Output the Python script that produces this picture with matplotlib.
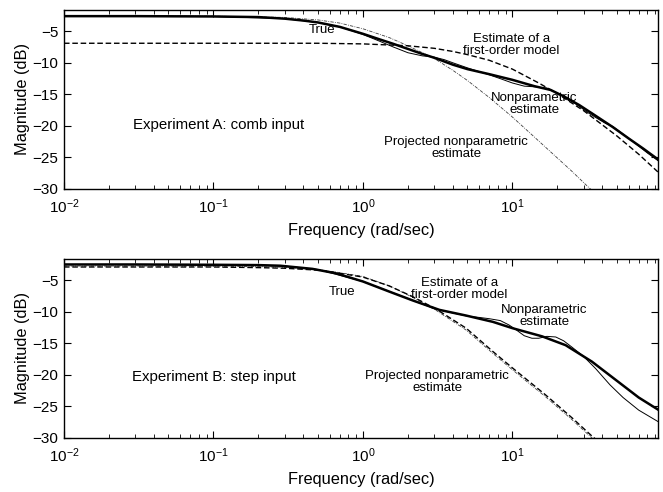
import numpy as np
import matplotlib
matplotlib.use('Agg')
import matplotlib.pyplot as plt

plt.rcParams.update({
    'font.family': ['Liberation Sans', 'DejaVu Sans'],
    'font.size': 11,
    'xtick.labelsize': 11,
    'ytick.labelsize': 11,
    'axes.labelsize': 11.8,
    'mathtext.default': 'regular',
})

# ---- Experiment A: comb input ----
freq_true_a = [0.01, 0.03, 0.1, 0.2, 0.3, 0.4, 0.5, 0.7, 1.0, 1.3, 1.6, 2.0, 2.5, 3.0,
               4.0, 5.0, 7.0, 10, 14, 18, 22, 28, 35, 47, 60, 75, 94]
true_a = [-2.6, -2.6, -2.65, -2.75, -3.0, -3.3, -3.6, -4.3, -5.4, -6.3, -7.0, -7.8, -8.6, -9.2,
          -10.3, -11.0, -11.8, -12.7, -13.7, -14.3, -15.3, -16.7, -18.2, -20.2, -22.0, -23.6, -25.3]

freq_np_a = [0.01, 0.1, 0.3, 0.5, 0.7, 1.0, 1.3, 1.6, 2.0, 2.5, 3.0, 3.5, 4.0, 5.0, 6.0, 7.0,
             8.5, 10, 12, 14, 17, 20, 22, 25, 28, 32, 38, 42, 47, 55, 65, 80, 94]
np_a = [-2.6, -2.65, -3.0, -3.6, -4.3, -5.5, -6.6, -7.5, -8.4, -8.9, -9.1, -9.5, -10.0, -10.8,
        -11.4, -11.9, -12.6, -13.2, -13.7, -13.8, -14.0, -14.8, -15.3, -16.1, -16.9, -17.9,
        -19.0, -19.6, -20.1, -21.3, -22.6, -24.3, -25.5]

freq_fo_a = [0.01, 0.1, 0.5, 1.0, 2.0, 3.0, 4.0, 5.0, 7.0, 10, 15, 20, 30, 50, 70, 94]
fo_a = [-6.9, -6.9, -6.9, -7.0, -7.3, -7.7, -8.2, -8.7, -9.6, -11.0, -13.2, -14.9, -17.6,
        -21.6, -24.5, -27.3]

freq_proj_a = [0.01, 0.1, 0.3, 0.5, 0.7, 1.0, 1.5, 2.0, 3.0, 4.0, 5.0, 7.0, 10, 15, 20, 25,
               32.5, 40]
proj_a = [-2.6, -2.6, -2.8, -3.2, -3.7, -4.6, -6.0, -7.3, -9.3, -11.2, -12.8, -15.5, -18.6,
          -22.4, -25.1, -27.2, -29.8, -31.6]

# ---- Experiment B: step input ----
freq_true_b = [0.01, 0.03, 0.1, 0.2, 0.28, 0.46, 0.66, 1.0, 1.5, 2.15, 3.25, 4.9, 7.4, 10,
               15.8, 22.7, 34, 51, 70, 94]
true_b = [-2.5, -2.5, -2.55, -2.6, -2.7, -3.2, -3.9, -5.2, -6.8, -8.2, -9.7, -10.6, -11.6,
          -12.6, -13.9, -15.3, -17.9, -21.1, -23.6, -25.5]

freq_np_b = [0.01, 0.1, 0.3, 0.5, 1.0, 2.0, 3.0, 4.0, 5.0, 6.0, 7.0, 8.3, 9.5, 10.5, 12,
             13.5, 15, 17, 19.5, 22, 25, 30, 36, 45, 55, 70, 94]
np_b = [-2.5, -2.55, -2.75, -3.3, -5.2, -7.9, -9.5, -10.2, -10.7, -10.9, -11.1, -11.4, -12.1,
        -12.8, -13.8, -14.2, -14.2, -13.9, -14.0, -14.6, -15.6, -17.1, -19.0, -21.6, -23.6,
        -25.6, -27.4]

freq_fo_b = [0.01, 0.1, 0.2, 0.3, 0.5, 0.7, 1.0, 1.5, 2.15, 3.1, 4.9, 7.4, 10, 16.7, 25, 34, 40]
fo_b = [-2.9, -2.9, -3.0, -3.1, -3.4, -3.9, -4.5, -5.9, -7.6, -9.6, -12.6, -16.3, -18.9,
        -23.2, -26.8, -29.7, -31.1]
proj_b = [-2.75, -2.75, -2.85, -2.95, -3.3, -3.8, -4.4, -5.9, -7.7, -9.8, -12.9, -16.6, -19.2,
          -23.5, -27.1, -30.0, -31.4]

fig = plt.figure(figsize=(6.63, 4.92), dpi=100)
ax1 = fig.add_axes([0.0965, 0.616, 0.896, 0.364])
ax2 = fig.add_axes([0.0965, 0.110, 0.896, 0.364])

proj_style = dict(color='0.25', lw=0.6, ls=(0, (4, 1.5, 1, 1.5)))

ax1.plot(freq_proj_a, proj_a, **proj_style)
ax1.plot(freq_fo_a, fo_a, 'k', lw=1.0, ls=(0, (4, 2)))
ax1.plot(freq_np_a, np_a, 'k-', lw=0.7)
ax1.plot(freq_true_a, true_a, 'k-', lw=1.8)

ax2.plot(freq_fo_b, proj_b, **proj_style)
ax2.plot(freq_fo_b, fo_b, 'k', lw=1.0, ls=(0, (4, 2)))
ax2.plot(freq_np_b, np_b, 'k-', lw=0.7)
ax2.plot(freq_true_b, true_b, 'k-', lw=1.8)

for ax in (ax1, ax2):
    ax.set_xscale('log')
    ax.set_xlim(0.01, 30 * np.pi)
    ax.set_ylim(-30, -1.6)
    ax.set_yticks([-30, -25, -20, -15, -10, -5])
    ax.tick_params(which='both', direction='in', top=True, right=True)
    ax.tick_params(which='major', length=5, width=0.8)
    ax.tick_params(which='minor', length=3, width=0.6)
    ax.tick_params(axis='x', which='major', pad=6)
    ax.tick_params(axis='y', which='major', pad=4)
    for s in ax.spines.values():
        s.set_linewidth(1.0)
    ax.set_xlabel('Frequency (rad/sec)')
    ax.set_ylabel('Magnitude (dB)')
    ax.xaxis.set_label_coords(0.5, -0.19)
    ax.yaxis.set_label_coords(-0.058, 0.5)

# annotations, top panel
ax1.text(0.53, -4.8, 'True', ha='center', va='center', fontsize=9.5)
ax1.text(9.8, -7.1, 'Estimate of a\nfirst-order model', ha='center', va='center',
         fontsize=9.5, linespacing=1.0)
ax1.text(14, -16.6, 'Nonparametric\nestimate', ha='center', va='center',
         fontsize=9.5, linespacing=1.0)
ax1.text(4.2, -23.5, 'Projected nonparametric\nestimate', ha='center', va='center',
         fontsize=9.5, linespacing=1.0)
ax1.text(0.029, -19.8, 'Experiment A: comb input', ha='left', va='center', fontsize=10.8)

# annotations, bottom panel
ax2.text(0.73, -6.9, 'True', ha='center', va='center', fontsize=9.5)
ax2.text(4.4, -6.4, 'Estimate of a\nfirst-order model', ha='center', va='center',
         fontsize=9.5, linespacing=1.0)
ax2.text(16.3, -10.6, 'Nonparametric\nestimate', ha='center', va='center',
         fontsize=9.5, linespacing=1.0)
ax2.text(3.15, -21.2, 'Projected nonparametric\nestimate', ha='center', va='center',
         fontsize=9.5, linespacing=1.0)
ax2.text(0.0285, -20.4, 'Experiment B: step input', ha='left', va='center', fontsize=10.8)

fig.savefig('out.png', dpi=100, facecolor='white')
